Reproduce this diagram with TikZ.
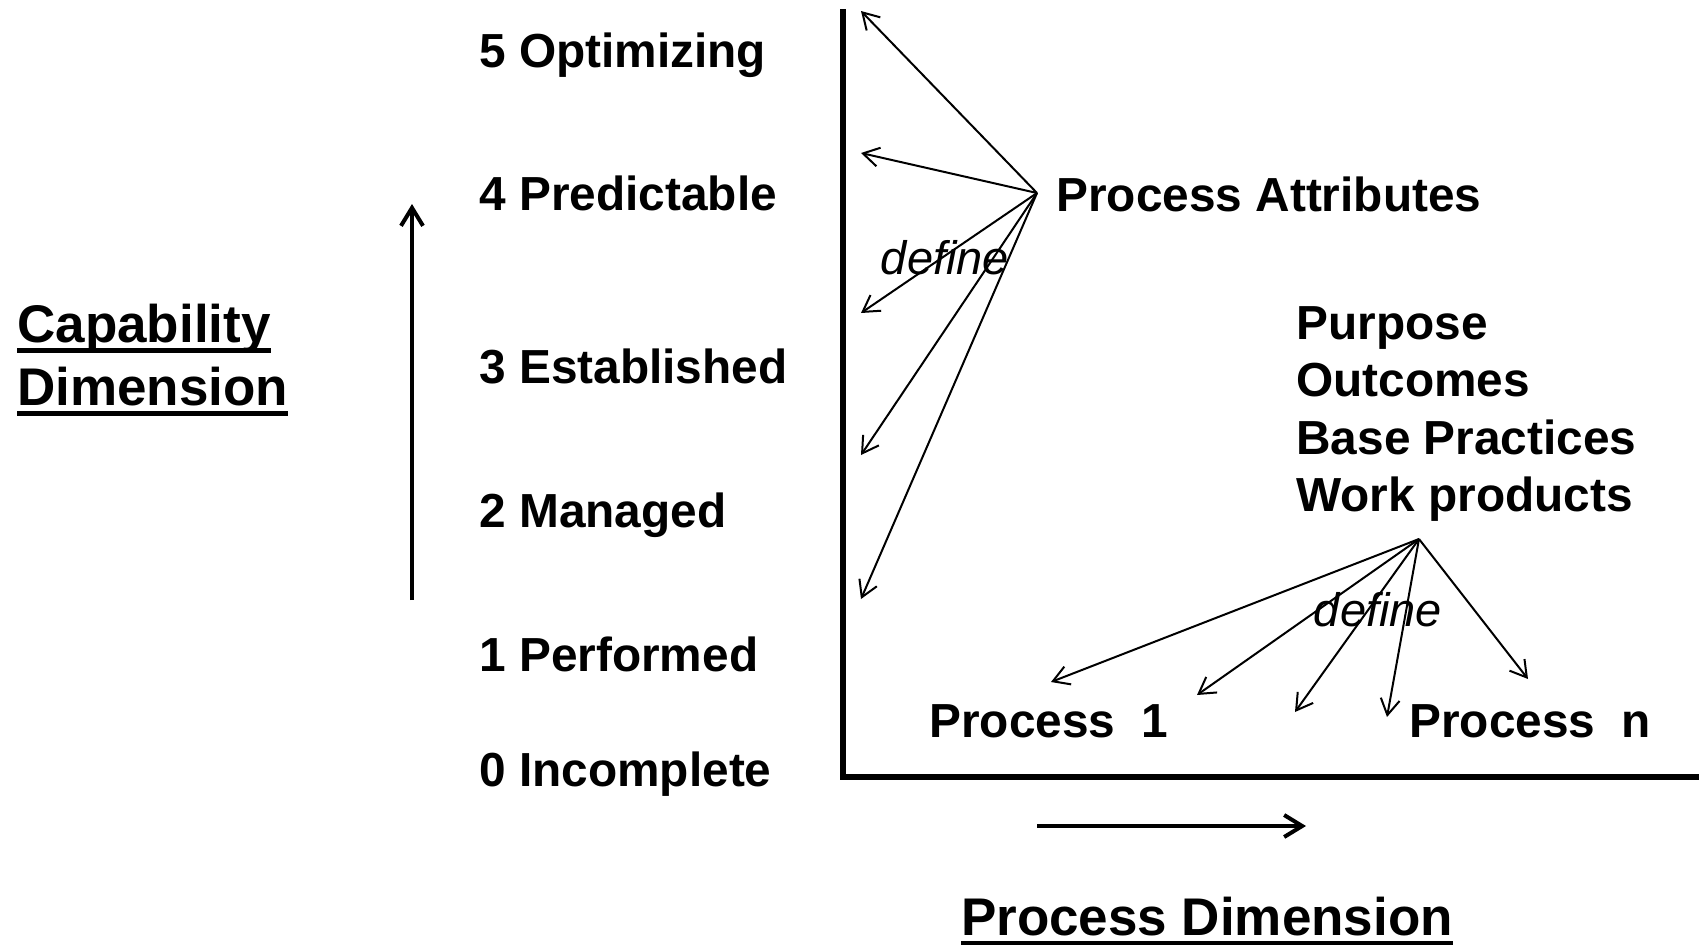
\documentclass[tikz,border=0pt]{standalone}
\usepackage{fontspec}
\setmainfont{Liberation Sans}
\usetikzlibrary{arrows.meta}
\newcommand\ulbar[1]{\sbox0{#1}\rlap{\rule[-5.6pt]{\wd0}{2.7pt}}\usebox0}
\begin{document}
\begin{tikzpicture}[x=0.5pt,y=-0.5pt,
  lvl/.style={anchor=base west,inner sep=0pt,font=\bfseries\fontsize{23.9}{28}\selectfont},
  dimlbl/.style={inner sep=0pt,font=\bfseries\fontsize{26.5}{32}\selectfont},
  deflbl/.style={inner sep=0pt,font=\itshape\fontsize{23.5}{28}\selectfont},
  thinarrow/.style={line width=1pt,-{Straight Barb[length=8pt,width=9.5pt]}},
  axisline/.style={line width=3.2pt},
  dimarrow/.style={line width=2pt,-{Straight Barb[length=9pt,width=11pt]}}]
\useasboundingbox (0,0) rectangle (1699,944);
% levels
\node[lvl] (l5) at (479,67) {5 Optimizing};
\node[lvl] (l4) at (479,210) {4 Predictable};
\node[lvl] (l3) at (479,383) {3 Established};
\node[lvl] (l2) at (479,527) {2 Managed};
\node[lvl] (l1) at (479,671) {1 Performed};
\node[lvl] (l0) at (479,786) {0 Incomplete};
% capability dimension
\node[dimlbl,anchor=base west] (cap1) at (17,342) {\ulbar{Capability}};
\node[dimlbl,anchor=base west] (cap2) at (17,405) {\ulbar{Dimension}};
\coordinate (cvs) at (412,600);
\coordinate (cve) at (412,204);
\draw[dimarrow] (cvs) -- (cve);
% axes
\coordinate (ytop) at (843,9);
\coordinate (orig) at (843,777);
\coordinate (xend) at (1699,777);
\draw[axisline] (ytop) -- (orig) -- (xend);
% process attributes
\node[lvl] (pa) at (1056,211) {Process Attributes};
\coordinate (paO) at (1037,193);
\coordinate (t5) at (861,11);
\coordinate (t4) at (861,153);
\coordinate (t3) at (861,313);
\coordinate (t2) at (861,455);
\coordinate (t1) at (861,599);
\foreach \t in {t5,t4,t3,t2,t1} \draw[thinarrow] (paO) -- (\t);
\node[deflbl] (def1) at (945,258) {define};
% process info
\node[lvl] (pur) at (1296,339) {Purpose};
\node[lvl] (out) at (1296,396) {Outcomes};
\node[lvl] (bp) at (1296,454) {Base Practices};
\node[lvl] (wp) at (1296,511) {Work products};
\coordinate (wpO) at (1419,539);
\coordinate (p1) at (1051,682);
\coordinate (p2) at (1197,695);
\coordinate (p3) at (1295,712);
\coordinate (p4) at (1387,717);
\coordinate (p5) at (1528,679);
\foreach \t in {p1,p2,p3,p4,p5} \draw[thinarrow] (wpO) -- (\t);
\node[deflbl] (def2) at (1378,610) {define};
\node[lvl] (pr1) at (929,737) {Process\ \ 1};
\node[lvl] (prn) at (1409,737) {Process\ \ n};
% process dimension
\coordinate (hs) at (1037,826);
\coordinate (he) at (1306,826);
\draw[dimarrow] (hs) -- (he);
\node[dimlbl,anchor=base] (pd) at (1207,935) {\ulbar{Process Dimension}};
\end{tikzpicture}
\end{document}
